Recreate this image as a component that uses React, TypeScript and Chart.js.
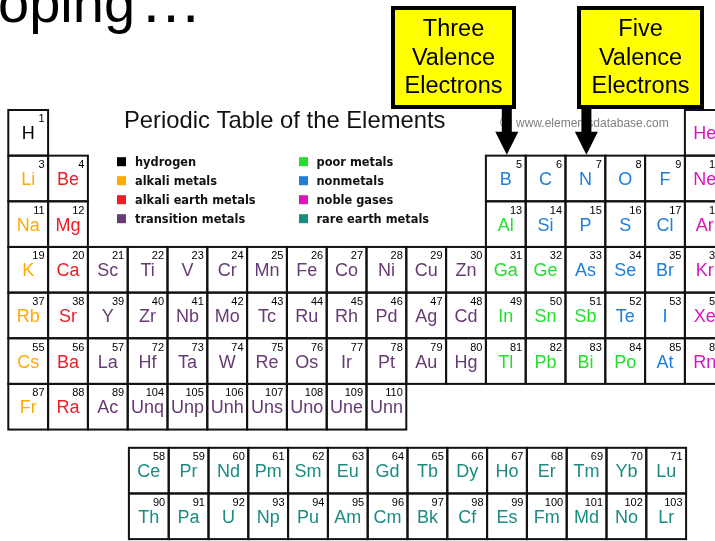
import React, { useEffect, useRef } from 'react';
import { Chart, registerables } from 'chart.js';

Chart.register(...registerables);

// ---- data ----
const symbols = [
  'H', 'He',
  'Li', 'Be', 'B', 'C', 'N', 'O', 'F', 'Ne',
  'Na', 'Mg', 'Al', 'Si', 'P', 'S', 'Cl', 'Ar',
  'K', 'Ca', 'Sc', 'Ti', 'V', 'Cr', 'Mn', 'Fe', 'Co', 'Ni', 'Cu', 'Zn', 'Ga', 'Ge', 'As', 'Se', 'Br', 'Kr',
  'Rb', 'Sr', 'Y', 'Zr', 'Nb', 'Mo', 'Tc', 'Ru', 'Rh', 'Pd', 'Ag', 'Cd', 'In', 'Sn', 'Sb', 'Te', 'I', 'Xe',
  'Cs', 'Ba', 'La', 'Hf', 'Ta', 'W', 'Re', 'Os', 'Ir', 'Pt', 'Au', 'Hg', 'Tl', 'Pb', 'Bi', 'Po', 'At', 'Rn',
  'Fr', 'Ra', 'Ac', 'Unq', 'Unp', 'Unh', 'Uns', 'Uno', 'Une', 'Unn',
  'Ce', 'Pr', 'Nd', 'Pm', 'Sm', 'Eu', 'Gd', 'Tb', 'Dy', 'Ho', 'Er', 'Tm', 'Yb', 'Lu',
  'Th', 'Pa', 'U', 'Np', 'Pu', 'Am', 'Cm', 'Bk', 'Cf', 'Es', 'Fm', 'Md', 'No', 'Lr',
];

const atomicNumbers = [
  1, 2,
  3, 4, 5, 6, 7, 8, 9, 10,
  11, 12, 13, 14, 15, 16, 17, 18,
  19, 20, 21, 22, 23, 24, 25, 26, 27, 28, 29, 30, 31, 32, 33, 34, 35, 36,
  37, 38, 39, 40, 41, 42, 43, 44, 45, 46, 47, 48, 49, 50, 51, 52, 53, 54,
  55, 56, 57, 72, 73, 74, 75, 76, 77, 78, 79, 80, 81, 82, 83, 84, 85, 86,
  87, 88, 89, 104, 105, 106, 107, 108, 109, 110,
  58, 59, 60, 61, 62, 63, 64, 65, 66, 67, 68, 69, 70, 71,
  90, 91, 92, 93, 94, 95, 96, 97, 98, 99, 100, 101, 102, 103,
];

// table column (group - 1) of each element
const tableColumns = [
  0, 17,
  0, 1, 12, 13, 14, 15, 16, 17,
  0, 1, 12, 13, 14, 15, 16, 17,
  0, 1, 2, 3, 4, 5, 6, 7, 8, 9, 10, 11, 12, 13, 14, 15, 16, 17,
  0, 1, 2, 3, 4, 5, 6, 7, 8, 9, 10, 11, 12, 13, 14, 15, 16, 17,
  0, 1, 2, 3, 4, 5, 6, 7, 8, 9, 10, 11, 12, 13, 14, 15, 16, 17,
  0, 1, 2, 3, 4, 5, 6, 7, 8, 9,
  3, 4, 5, 6, 7, 8, 9, 10, 11, 12, 13, 14, 15, 16,
  3, 4, 5, 6, 7, 8, 9, 10, 11, 12, 13, 14, 15, 16,
];

// table row (period - 1; 7 and 8 are the rare-earth rows)
const tableRows = [
  0, 0,
  1, 1, 1, 1, 1, 1, 1, 1,
  2, 2, 2, 2, 2, 2, 2, 2,
  3, 3, 3, 3, 3, 3, 3, 3, 3, 3, 3, 3, 3, 3, 3, 3, 3, 3,
  4, 4, 4, 4, 4, 4, 4, 4, 4, 4, 4, 4, 4, 4, 4, 4, 4, 4,
  5, 5, 5, 5, 5, 5, 5, 5, 5, 5, 5, 5, 5, 5, 5, 5, 5, 5,
  6, 6, 6, 6, 6, 6, 6, 6, 6, 6,
  7, 7, 7, 7, 7, 7, 7, 7, 7, 7, 7, 7, 7, 7,
  8, 8, 8, 8, 8, 8, 8, 8, 8, 8, 8, 8, 8, 8,
];

// H hydrogen, A alkali, E alkali earth, T transition, P poor, N nonmetal, G noble gas, R rare earth
const categories = [
  'H', 'G',
  'A', 'E', 'N', 'N', 'N', 'N', 'N', 'G',
  'A', 'E', 'P', 'N', 'N', 'N', 'N', 'G',
  'A', 'E', 'T', 'T', 'T', 'T', 'T', 'T', 'T', 'T', 'T', 'T', 'P', 'P', 'N', 'N', 'N', 'G',
  'A', 'E', 'T', 'T', 'T', 'T', 'T', 'T', 'T', 'T', 'T', 'T', 'P', 'P', 'P', 'N', 'N', 'G',
  'A', 'E', 'T', 'T', 'T', 'T', 'T', 'T', 'T', 'T', 'T', 'T', 'P', 'P', 'P', 'P', 'N', 'G',
  'A', 'E', 'T', 'T', 'T', 'T', 'T', 'T', 'T', 'T',
  'R', 'R', 'R', 'R', 'R', 'R', 'R', 'R', 'R', 'R', 'R', 'R', 'R', 'R',
  'R', 'R', 'R', 'R', 'R', 'R', 'R', 'R', 'R', 'R', 'R', 'R', 'R', 'R',
];

const legendKeys = ['H', 'A', 'E', 'T', 'P', 'N', 'G', 'R'];
const legendLabels = [
  'hydrogen', 'alkali metals', 'alkali earth metals', 'transition metals',
  'poor metals', 'nonmetals', 'noble gases', 'rare earth metals',
];

const titleText = 'Periodic Table of the Elements';
const watermarkSymbol = '©';
const watermarkText = 'www.elementsdatabase.com';
const headingWord = 'oping';
const headingDots = '…';
const calloutLines = [
  ['Three', 'Valence', 'Electrons'],
  ['Five', 'Valence', 'Electrons'],
];
const calloutTargets = ['B', 'N'];

// ---- styles ----
const COLORS: Record<string, string> = {
  H: '#000000',
  A: '#FFAA00',
  E: '#EE1C24',
  T: '#663A73',
  P: '#22E02A',
  N: '#1E7FDA',
  G: '#DD14BE',
  R: '#1A8C80',
};
const SANS = '"Liberation Sans", Arial, sans-serif';
const W = 715;
const H = 541;
const RARE_EARTH_GAP = 0.4;
const RARE_EARTH_SHIFT = 0.03;

const calloutBoxes = [
  { x: 391, y: 6, w: 125, h: 103 },
  { x: 577, y: 6, w: 127, h: 103 },
];

const tablePlugin = {
  id: 'periodicTable',
  afterDatasetsDraw(chart: any) {
    const ctx: CanvasRenderingContext2D = chart.ctx;
    const xs = chart.scales.x;
    const ys = chart.scales.y;
    const pts = chart.data.datasets[0].data as any[];

    ctx.save();
    // heading fragment
    ctx.fillStyle = '#000';
    ctx.textAlign = 'left';
    ctx.textBaseline = 'alphabetic';
    ctx.font = `56px ${SANS}`;
    ctx.fillText(headingWord, -2, 21.5);
    ctx.font = `62px ${SANS}`;
    ctx.fillText(headingDots, 140, 21.5);

    // cells
    const rects = pts.map((p) => {
      const x0 = xs.getPixelForValue(p.x - 0.5);
      const x1 = xs.getPixelForValue(p.x + 0.5);
      const y0 = ys.getPixelForValue(p.y - 0.5);
      const y1 = ys.getPixelForValue(p.y + 0.5);
      return { x0, x1, y0, y1, p };
    });
    rects.forEach((r) => {
      ctx.fillStyle = '#fff';
      ctx.fillRect(r.x0, r.y0, r.x1 - r.x0, r.y1 - r.y0);
    });
    ctx.strokeStyle = '#111';
    ctx.lineWidth = 2;
    rects.forEach((r) => {
      ctx.strokeRect(r.x0, r.y0, r.x1 - r.x0, r.y1 - r.y0);
    });
    rects.forEach((r) => {
      const cx = (r.x0 + r.x1) / 2;
      ctx.fillStyle = COLORS[r.p.cat];
      ctx.font = `18px ${SANS}`;
      ctx.textAlign = 'center';
      ctx.textBaseline = 'alphabetic';
      ctx.fillText(r.p.sym, cx, r.y0 + 29.5);
      ctx.fillStyle = '#000';
      ctx.font = `11px ${SANS}`;
      ctx.textAlign = 'right';
      ctx.fillText(String(r.p.num), r.x1 - 3.5, r.y0 + 12.5);
    });

    // title
    ctx.fillStyle = '#111';
    ctx.font = `23.8px ${SANS}`;
    ctx.textAlign = 'left';
    ctx.fillText(titleText, 124, 128.3);

    // legend
    legendKeys.forEach((k, i) => {
      const col = Math.floor(i / 4);
      const row = i % 4;
      const sx = col === 0 ? 117 : 299;
      const tx = col === 0 ? 135 : 316.5;
      const cy = 161.7 + row * 19;
      ctx.fillStyle = COLORS[k];
      ctx.fillRect(sx, cy - 4.5, 9, 9);
      ctx.fillStyle = '#111';
      ctx.font = `bold 11.4px "DejaVu Sans", Verdana, sans-serif`;
      ctx.textAlign = 'left';
      ctx.fillText(legendLabels[i], tx, cy + 4);
    });

    // watermark
    ctx.fillStyle = '#808080';
    ctx.font = `16px ${SANS}`;
    ctx.fillText(watermarkSymbol, 500, 127.5);
    ctx.font = `12px ${SANS}`;
    ctx.fillText(watermarkText, 516, 126.5);

    // callouts + arrows
    calloutTargets.forEach((sym, i) => {
      const target = rects.find((r) => r.p.sym === sym);
      const box = calloutBoxes[i];
      const tipX = (target.x0 + target.x1) / 2 + 1;
      const tipY = target.y0 - 1;
      ctx.fillStyle = '#000';
      ctx.fillRect(tipX - 5, box.y + box.h - 2, 10, tipY - 22 - (box.y + box.h - 2));
      ctx.beginPath();
      ctx.moveTo(tipX - 11.5, tipY - 23);
      ctx.lineTo(tipX + 11.5, tipY - 23);
      ctx.lineTo(tipX, tipY);
      ctx.closePath();
      ctx.fill();

      ctx.fillStyle = '#000';
      ctx.fillRect(box.x, box.y, box.w, box.h);
      ctx.fillStyle = '#FFFF00';
      ctx.fillRect(box.x + 4, box.y + 4, box.w - 8, box.h - 8);
      ctx.fillStyle = '#000';
      ctx.font = `23.5px ${SANS}`;
      ctx.textAlign = 'center';
      calloutLines[i].forEach((line, j) => {
        ctx.fillText(line, box.x + box.w / 2, 36 + j * 28.7);
      });
    });
    ctx.restore();
  },
};

export default function App() {
  const ref = useRef<HTMLCanvasElement | null>(null);

  useEffect(() => {
    if (!ref.current) return;
    const points = symbols.map((sym, i) => {
      const rare = tableRows[i] >= 7;
      return {
        x: tableColumns[i] + 0.5 + (rare ? RARE_EARTH_SHIFT : 0),
        y: tableRows[i] + 0.5 + (rare ? RARE_EARTH_GAP : 0),
        sym,
        num: atomicNumbers[i],
        cat: categories[i],
      };
    });
    const chart = new Chart(ref.current, {
      type: 'scatter',
      data: {
        datasets: [
          {
            data: points as any,
            pointRadius: 0,
            pointHoverRadius: 0,
            showLine: false,
          },
        ],
      },
      options: {
        animation: false,
        responsive: false,
        maintainAspectRatio: false,
        devicePixelRatio: 1,
        layout: { padding: 0 },
        events: [],
        plugins: {
          legend: { display: false },
          tooltip: { enabled: false },
        },
        scales: {
          x: { type: 'linear', display: false, min: -0.2085, max: 17.7563 },
          y: { type: 'linear', display: false, reverse: true, min: -2.4096, max: 9.4414 },
        },
      },
      plugins: [tablePlugin],
    });
    return () => chart.destroy();
  }, []);

  return (
    <div style={{ position: 'fixed', left: 0, top: 0, width: W, height: H, background: '#fff' }}>
      <canvas ref={ref} width={W} height={H} style={{ display: 'block', width: W, height: H }} />
    </div>
  );
}
